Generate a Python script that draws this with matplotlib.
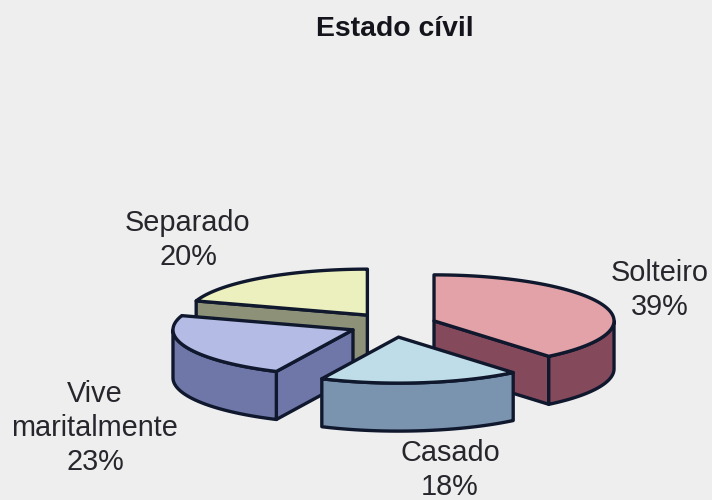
import numpy as np
import matplotlib
matplotlib.use("Agg")
import matplotlib.pyplot as plt
from matplotlib.patches import Polygon

plt.rcParams["font.family"] = ["Liberation Sans", "DejaVu Sans"]

# Chart content
title = "Estado cívil"
categories = ["Solteiro", "Casado", "Vive\nmaritalmente", "Separado"]
shares = [39, 18, 23, 20]
top_colors = ["#E2A2A8", "#BFDDE8", "#B4BBE5", "#ECEFBE"]
side_colors = ["#84495A", "#7A93AE", "#6E77A8", "#8D9177"]
label_xy = [(660, 290), (450, 470), (95, 428), (188, 240)]

# Oblique view of the pie, in figure pixels
CENTER = (393.0, 325.0)
RX, RY = 180.0, 46.0
DEPTH = 48.0
EXPLODE_X, EXPLODE_Y = 43.6, 12.2
EDGE = "#10182E"
LW = 2.4
BACKGROUND = "#EEEEEE"
TEXT = "#26262C"


def disc_point(apex, angle_deg, radius=1.0):
    a = np.radians(angle_deg)
    return (apex[0] + radius * RX * np.sin(a), apex[1] - radius * RY * np.cos(a))


def lowered(points):
    return [(x, y + DEPTH) for x, y in points]


def face(ax, points, color, z):
    ax.add_patch(Polygon(points, closed=True, facecolor=color, edgecolor=EDGE,
                         linewidth=LW, joinstyle="round", zorder=z))


fig = plt.figure(figsize=(7.12, 5.0), dpi=100, facecolor=BACKGROUND)
ax = fig.add_axes([0, 0, 1, 1])
ax.set_xlim(0, 712)
ax.set_ylim(500, 0)
ax.axis("off")

# Slice angles run clockwise from twelve o'clock
edges = np.cumsum([0] + shares) * 3.6
slices = []
for i in range(len(shares)):
    start, end = edges[i], edges[i + 1]
    mid = np.radians((start + end) / 2)
    apex = (CENTER[0] + EXPLODE_X * np.sin(mid), CENTER[1] - EXPLODE_Y * np.cos(mid))
    slices.append((i, start, end, apex))

# Back slices first, so nearer ones overlap them
paint_order = [3, 0, 2, 1]
for depth_rank, i in enumerate(paint_order):
    _, start, end, apex = slices[i]
    z = 2 + depth_rank * 5
    # Cut faces: only those turned toward the viewer are drawn
    for angle, facing in ((start, np.sin(np.radians(start)) < -1e-6),
                          (end, np.sin(np.radians(end)) > 1e-6)):
        if facing:
            corner = disc_point(apex, angle)
            face(ax, [apex, corner, (corner[0], corner[1] + DEPTH), (apex[0], apex[1] + DEPTH)],
                 side_colors[i], z)
    # Outer rim on the near half of the disc
    lo, hi = max(start, 90), min(end, 270)
    if hi > lo:
        rim = [disc_point(apex, t) for t in np.linspace(lo, hi, 80)]
        face(ax, rim + lowered(rim)[::-1], side_colors[i], z + 1)
    arc = [disc_point(apex, t) for t in np.linspace(start, end, 120)]
    face(ax, [apex] + arc, top_colors[i], z + 2)

ax.text(395, 29, title, ha="center", va="center", fontsize=20.4, fontweight="bold", color="#14141C")
for name, share, (x, y) in zip(categories, shares, label_xy):
    ax.text(x, y, f"{name}\n{share}%", ha="center", va="center", fontsize=20.8,
            color=TEXT, linespacing=1.27, zorder=40)

fig.savefig("out.png", dpi=100, facecolor=BACKGROUND)
